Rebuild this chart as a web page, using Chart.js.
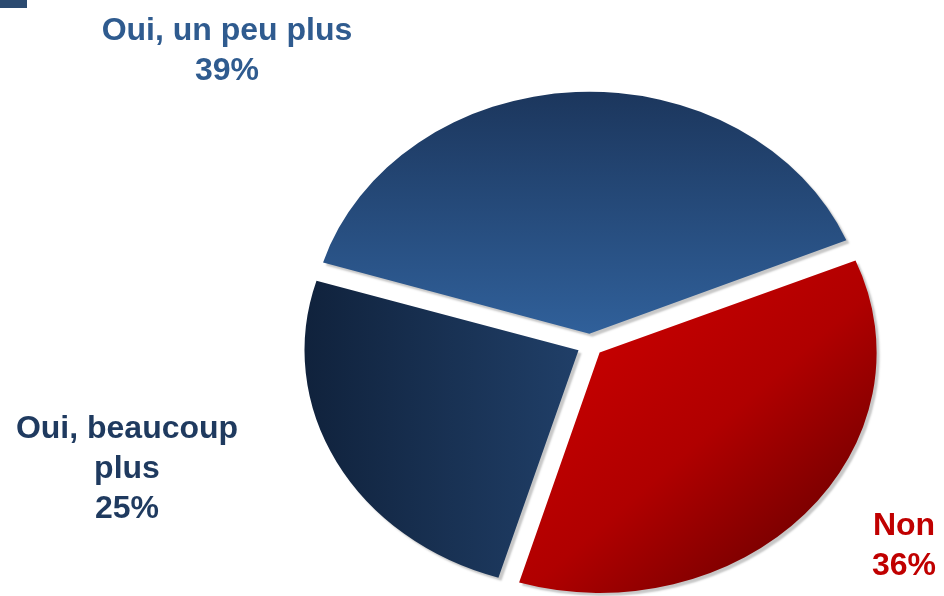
<!DOCTYPE html>
<html>
<head>
<meta charset="utf-8">
<script src="https://cdn.jsdelivr.net/npm/chart.js@4.4.1/dist/chart.umd.min.js"></script>
<style>
  html, body { margin: 0; padding: 0; background: #ffffff; }
  #wrap { position: relative; width: 944px; height: 596px; }
  #corner { position: absolute; left: 0; top: 0; width: 27px; height: 8px; background: #2b4a70; }
</style>
</head>
<body>
<div id="wrap">
  <canvas id="c"></canvas>
  <div id="corner"></div>
</div>
<script>
// ---- data ----
const categories = [["Oui, beaucoup", "plus"], ["Oui, un peu plus"], ["Non"]];
const values = [25, 39, 36];
const textColors = ["#1f3a5f", "#2f5b8f", "#c00000"];

// ---- style / layout ----
const RADIUS = 274;
const SQUASH = 0.868;
const labelPlace = [
  { x: 127, y: 438 },
  { x: 227, y: 40 },
  { x: 904, y: 535 }
];

function center(chart) {
  const a = chart.chartArea;
  return { cx: (a.left + a.right) / 2, cy: (a.top + a.bottom) / 2 };
}

function sliceFill(context) {
  const chart = context.chart;
  if (!chart.chartArea) return "#2f5e96";
  const { cx, cy } = center(chart);
  const c = chart.ctx;
  const i = context.dataIndex;
  let g;
  if (i === 0) {
    g = c.createLinearGradient(cx - RADIUS, cy, cx, cy);
    g.addColorStop(0, "#10223c");
    g.addColorStop(1, "#203f68");
  } else if (i === 1) {
    g = c.createLinearGradient(cx, cy - RADIUS, cx, cy);
    g.addColorStop(0, "#1c375e");
    g.addColorStop(1, "#30609a");
  } else {
    g = c.createLinearGradient(cx - RADIUS * 0.1, cy - RADIUS * 0.1, cx + RADIUS * 0.75, cy + RADIUS * 0.75);
    g.addColorStop(0, "#c80000");
    g.addColorStop(0.55, "#b00000");
    g.addColorStop(1, "#7a0000");
  }
  return g;
}

const squashPlugin = {
  id: "squash",
  beforeDatasetsDraw(chart) {
    const ctx = chart.ctx;
    const { cx, cy } = center(chart);
    ctx.save();
    ctx.translate(cx, cy);
    ctx.scale(1, SQUASH);
    ctx.translate(-cx, -cy);
    ctx.shadowColor = "rgba(0,0,0,0.22)";
    ctx.shadowOffsetX = 3;
    ctx.shadowOffsetY = 3;
    ctx.shadowBlur = 2;
  },
  afterDatasetsDraw(chart) {
    chart.ctx.restore();
  }
};

const labelPlugin = {
  id: "pieLabels",
  afterDraw(chart) {
    const ctx = chart.ctx;
    ctx.save();
    ctx.font = "bold 32px 'Liberation Sans', Arial, sans-serif";
    ctx.textAlign = "center";
    ctx.textBaseline = "alphabetic";
    const lh = 40;
    chart.data.labels.forEach((lab, i) => {
      const lines = (Array.isArray(lab) ? lab.slice() : [lab]);
      lines.push(chart.data.datasets[0].data[i] + "%");
      ctx.fillStyle = textColors[i];
      lines.forEach((t, j) => {
        ctx.fillText(t, labelPlace[i].x, labelPlace[i].y + j * lh);
      });
    });
    ctx.restore();
  }
};

new Chart(document.getElementById("c"), {
  type: "pie",
  data: {
    labels: categories,
    datasets: [{
      data: values,
      backgroundColor: sliceFill,
      borderWidth: 0,
      offset: 52,
      hoverOffset: 0
    }]
  },
  options: {
    responsive: true,
    maintainAspectRatio: false,
    animation: false,
    events: [],
    rotation: 197,
    radius: RADIUS,
    layout: { padding: { left: 236, top: 94, right: 0, bottom: 0 } },
    plugins: {
      legend: { display: false },
      tooltip: { enabled: false },
      title: { display: false }
    }
  },
  plugins: [squashPlugin, labelPlugin]
});
</script>
</body>
</html>
